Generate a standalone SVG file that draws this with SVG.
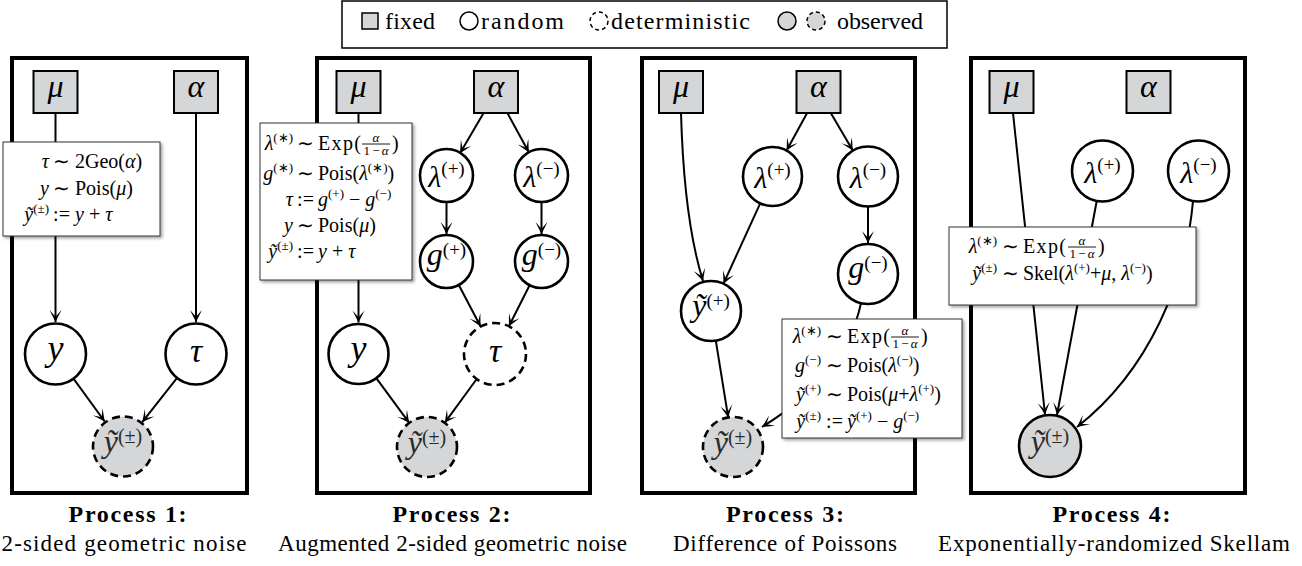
<svg xmlns="http://www.w3.org/2000/svg" width="1302" height="566" viewBox="0 0 1302 566" font-family="Liberation Serif, serif">
<style>
text{font-family:'Liberation Serif',serif;fill:#000}
.m{font-size:20px}
.i{font-style:italic}
.s{font-size:13px}
.fr{font-size:13px}
.e{text-anchor:end}
.c{text-anchor:middle}
.lab{font-style:italic;text-anchor:middle}
.cap{font-size:24px;font-weight:bold;text-anchor:middle}
.sub{font-size:23px;text-anchor:middle}
.lg{font-size:24px}
.node{stroke:#000;stroke-width:2.6;fill:#fff}
.det{stroke-dasharray:8 5}
.obs{fill:#d4d6d7}
.obst{fill:#2a2a2a}
.fix{fill:#d4d6d7;stroke:#000;stroke-width:2}
.frame{fill:none;stroke:#000;stroke-width:4}
.edge{fill:none;stroke:#000;stroke-width:2;marker-end:url(#arr)}
.tb{fill:#fff;stroke:#333;stroke-width:1;filter:url(#sh)}
.bar{stroke:#000;stroke-width:0.9}
</style>
<defs>
<marker id="arr" viewBox="-13 -7 14 14" refX="0" refY="0" markerWidth="14" markerHeight="14" markerUnits="userSpaceOnUse" orient="auto">
<path d="M0,0 L-12,-6 Q-7,-1.5 -5,0 Q-7,1.5 -12,6 Z" fill="#000" stroke="none"/>
</marker>
<filter id="sh" x="-10%" y="-10%" width="130%" height="130%">
<feDropShadow dx="2" dy="2" stdDeviation="1.6" flood-color="#000" flood-opacity="0.35"/>
</filter>
</defs>
<rect width="1302" height="566" fill="#fff"/>

<g id="legend">
<rect x="342" y="1" width="605" height="47" fill="#fff" stroke="#000" stroke-width="1.5"/>
<rect x="362" y="13" width="16" height="16" fill="#d4d6d7" stroke="#000" stroke-width="1.5"/>
<text class="lg" x="385" y="29" textLength="50">fixed</text>
<circle cx="469" cy="21" r="9" fill="#fff" stroke="#000" stroke-width="1.5"/>
<text class="lg" x="481" y="29" textLength="83">random</text>
<circle cx="599" cy="21" r="9" fill="#fff" stroke="#000" stroke-width="1.5" stroke-dasharray="4 3"/>
<text class="lg" x="611" y="29" textLength="139">deterministic</text>
<circle cx="787" cy="21" r="9" fill="#d4d6d7" stroke="#000" stroke-width="1.5"/>
<circle cx="816" cy="21" r="9" fill="#d4d6d7" stroke="#000" stroke-width="1.5" stroke-dasharray="4 3"/>
<text class="lg" x="837" y="29" textLength="86">observed</text>
</g>

<g id="frames">
<rect class="frame" x="12" y="58" width="235" height="435"/>
<rect class="frame" x="317" y="58" width="273" height="435"/>
<rect class="frame" x="642" y="58" width="273" height="435"/>
<rect class="frame" x="971" y="58" width="274" height="435"/>
</g>

<g id="connectors">
<path class="edge" d="M55.5 113 V322"/>
<path class="edge" d="M196 113 V322"/>
<path class="edge" d="M73.5 378.6 L104.7 421.5"/>
<path class="edge" d="M177.1 377.9 L142.2 422.2"/>
<path class="edge" d="M358.5 113 V322.5"/>
<path class="edge" d="M483.6 113 L460 153.2"/>
<path class="edge" d="M507.4 113 L528.8 152.2"/>
<path class="edge" d="M446.5 202 V234"/>
<path class="edge" d="M541.5 202 V234"/>
<path class="edge" d="M458.8 285 L480.6 326.5"/>
<path class="edge" d="M529.6 285.2 L508.9 326.3"/>
<path class="edge" d="M376.3 378.2 L409.2 422.9"/>
<path class="edge" d="M476.7 379 L444.7 422.8"/>
<path class="edge" d="M681 113 Q684 220 703 281"/>
<path class="edge" d="M760.2 203.3 L723.5 283.7"/>
<path class="edge" d="M807.1 113 L786.6 150.6"/>
<path class="edge" d="M830.8 113 L852.8 150.6"/>
<path class="edge" d="M868 206.5 V243"/>
<path class="edge" d="M715.8 340.6 L728.2 417.4"/>
<path class="edge" d="M861 303 Q846 375 762 427"/>
<path class="edge" d="M1013 113 L1045 414.5"/>
<path class="edge" d="M1096.7 201 L1057 415"/>
<path class="edge" d="M1193 201 C1186 280 1150 370 1077 427"/>
</g>

<!-- Panel 1 nodes -->
<g id="p1-mu"><rect class="fix" x="33.5" y="71" width="44" height="42"/><text class="lab" x="55.5" y="97" font-size="32">μ</text></g>
<g id="p1-alpha"><rect class="fix" x="174" y="71" width="44" height="42"/><text class="lab" x="196" y="97" font-size="32">α</text></g>
<g id="p1-y"><circle class="node" cx="55.5" cy="354" r="30.5"/><text class="lab" x="55.5" y="360" font-size="36">y</text></g>
<g id="p1-tau"><circle class="node" cx="196" cy="354" r="30.5"/><text class="lab" x="196" y="362" font-size="34">τ</text></g>
<g id="p1-ytilde"><circle class="node det obs" cx="123" cy="446.5" r="30"/><text class="lab obst" x="123" y="452" font-size="32">ỹ<tspan font-size="20" font-style="normal" dy="-9">(±)</tspan></text></g>

<!-- Panel 2 nodes -->
<g id="p2-mu"><rect class="fix" x="336.5" y="71" width="44" height="42"/><text class="lab" x="358.5" y="97" font-size="32">μ</text></g>
<g id="p2-alpha"><rect class="fix" x="474" y="71" width="44" height="42"/><text class="lab" x="496" y="97" font-size="32">α</text></g>
<g id="p2-lplus"><circle class="node" cx="446.5" cy="175.5" r="26.5"/><text class="lab" x="446.5" y="187" font-size="30">λ<tspan font-size="19" font-style="normal" dy="-12">(+)</tspan></text></g>
<g id="p2-lminus"><circle class="node" cx="541.5" cy="175.5" r="26.5"/><text class="lab" x="541.5" y="187" font-size="30">λ<tspan font-size="19" font-style="normal" dy="-12">(−)</tspan></text></g>
<g id="p2-gplus"><circle class="node" cx="446.5" cy="261.5" r="26.5"/><text class="lab" x="446.5" y="265" font-size="32">g<tspan font-size="19" font-style="normal" dy="-9">(+)</tspan></text></g>
<g id="p2-gminus"><circle class="node" cx="541.5" cy="261.5" r="26.5"/><text class="lab" x="541.5" y="265" font-size="32">g<tspan font-size="19" font-style="normal" dy="-9">(−)</tspan></text></g>
<g id="p2-y"><circle class="node" cx="358.5" cy="354" r="30"/><text class="lab" x="358.5" y="360" font-size="36">y</text></g>
<g id="p2-tau"><circle class="node det" cx="495" cy="354" r="31"/><text class="lab" x="495" y="362" font-size="34">τ</text></g>
<g id="p2-ytilde"><circle class="node det obs" cx="427" cy="447" r="30"/><text class="lab obst" x="427" y="452.5" font-size="32">ỹ<tspan font-size="20" font-style="normal" dy="-9">(±)</tspan></text></g>

<!-- Panel 3 nodes -->
<g id="p3-mu"><rect class="fix" x="659" y="71" width="44" height="42"/><text class="lab" x="681" y="97" font-size="32">μ</text></g>
<g id="p3-alpha"><rect class="fix" x="796.5" y="71" width="44" height="42"/><text class="lab" x="818.5" y="97" font-size="32">α</text></g>
<g id="p3-lplus"><circle class="node" cx="772.5" cy="176.5" r="29.5"/><text class="lab" x="772.5" y="188" font-size="30">λ<tspan font-size="19" font-style="normal" dy="-12">(+)</tspan></text></g>
<g id="p3-lminus"><circle class="node" cx="868" cy="176.5" r="30"/><text class="lab" x="868" y="188" font-size="30">λ<tspan font-size="19" font-style="normal" dy="-12">(−)</tspan></text></g>
<g id="p3-gminus"><circle class="node" cx="868" cy="274" r="30"/><text class="lab" x="868" y="278" font-size="32">g<tspan font-size="19" font-style="normal" dy="-9">(−)</tspan></text></g>
<g id="p3-yplus"><circle class="node" cx="711" cy="311" r="30"/><text class="lab" x="711" y="316" font-size="32">ỹ<tspan font-size="19" font-style="normal" dy="-9">(+)</tspan></text></g>
<g id="p3-ytilde"><circle class="node det obs" cx="733" cy="447" r="30"/><text class="lab obst" x="733" y="452.5" font-size="32">ỹ<tspan font-size="20" font-style="normal" dy="-9">(±)</tspan></text></g>

<!-- Panel 4 nodes -->
<g id="p4-mu"><rect class="fix" x="989.5" y="71" width="44" height="42"/><text class="lab" x="1011.5" y="97" font-size="32">μ</text></g>
<g id="p4-alpha"><rect class="fix" x="1126.5" y="71" width="44" height="42"/><text class="lab" x="1148.5" y="97" font-size="32">α</text></g>
<g id="p4-lplus"><circle class="node" cx="1102.5" cy="171" r="30.5"/><text class="lab" x="1102.5" y="182.5" font-size="30">λ<tspan font-size="19" font-style="normal" dy="-12">(+)</tspan></text></g>
<g id="p4-lminus"><circle class="node" cx="1198.5" cy="171" r="30.5"/><text class="lab" x="1198.5" y="182.5" font-size="30">λ<tspan font-size="19" font-style="normal" dy="-12">(−)</tspan></text></g>
<g id="p4-ytilde"><circle class="node obs" cx="1050" cy="446" r="31"/><text class="lab obst" x="1050" y="451.5" font-size="32">ỹ<tspan font-size="20" font-style="normal" dy="-9">(±)</tspan></text></g>

<!-- Text box 1 -->
<g id="box1">
<rect class="tb" x="3" y="142" width="157" height="94"/>
<text class="m i e" x="49" y="168">τ</text><text class="m c" x="61.5" y="168">∼</text><text class="m" x="75" y="168">2Geo(<tspan class="i">α</tspan>)</text>
<text class="m i e" x="49" y="195">y</text><text class="m c" x="61.5" y="195">∼</text><text class="m" x="75" y="195">Pois(<tspan class="i">μ</tspan>)</text>
<text class="m e" x="49" y="221"><tspan class="i">ỹ</tspan><tspan class="s" dy="-8">(±)</tspan></text><text class="m c" x="61.5" y="221">:=</text><text class="m" x="75" y="221"><tspan class="i">y</tspan> + <tspan class="i">τ</tspan></text>
</g>

<!-- Text box 2 -->
<g id="box2">
<rect class="tb" x="260" y="123" width="152" height="157"/>
<text class="m e" x="293" y="150"><tspan class="i">λ</tspan><tspan class="s" dy="-8">(∗)</tspan></text><text class="m c" x="305.5" y="150">∼</text>
<text class="m" x="318" y="150" textLength="43">Exp(</text>
<text class="fr i c" x="376" y="142">α</text><line class="bar" x1="362" y1="144" x2="390" y2="144"/><text class="fr c" x="376" y="154.5" textLength="25">1−<tspan class="i">α</tspan></text>
<text class="m" x="392" y="150">)</text>
<text class="m e" x="293" y="180"><tspan class="i">g</tspan><tspan class="s" dy="-8">(∗)</tspan></text><text class="m c" x="305.5" y="180">∼</text><text class="m" x="318" y="180">Pois(<tspan class="i">λ</tspan><tspan class="s" dy="-8">(∗)</tspan><tspan dy="8">)</tspan></text>
<text class="m i e" x="293" y="206">τ</text><text class="m c" x="305.5" y="206">:=</text><text class="m" x="318" y="206"><tspan class="i">g</tspan><tspan class="s" dy="-8">(+)</tspan><tspan dy="8"> − </tspan><tspan class="i">g</tspan><tspan class="s" dy="-8">(−)</tspan></text>
<text class="m i e" x="293" y="232">y</text><text class="m c" x="305.5" y="232">∼</text><text class="m" x="318" y="232">Pois(<tspan class="i">μ</tspan>)</text>
<text class="m e" x="293" y="258"><tspan class="i">ỹ</tspan><tspan class="s" dy="-8">(±)</tspan></text><text class="m c" x="305.5" y="258">:=</text><text class="m" x="318" y="258"><tspan class="i">y</tspan> + <tspan class="i">τ</tspan></text>
</g>

<!-- Text box 3 -->
<g id="box3">
<rect class="tb" x="782" y="319" width="180" height="119"/>
<text class="m e" x="821" y="343"><tspan class="i">λ</tspan><tspan class="s" dy="-8">(∗)</tspan></text><text class="m c" x="834.5" y="343">∼</text>
<text class="m" x="847" y="343" textLength="43">Exp(</text>
<text class="fr i c" x="905" y="335">α</text><line class="bar" x1="891" y1="337" x2="919" y2="337"/><text class="fr c" x="905" y="347.5" textLength="25">1−<tspan class="i">α</tspan></text>
<text class="m" x="921" y="343">)</text>
<text class="m e" x="821" y="372"><tspan class="i">g</tspan><tspan class="s" dy="-8">(−)</tspan></text><text class="m c" x="834.5" y="372">∼</text><text class="m" x="847" y="372">Pois(<tspan class="i">λ</tspan><tspan class="s" dy="-8">(−)</tspan><tspan dy="8">)</tspan></text>
<text class="m e" x="821" y="401"><tspan class="i">ỹ</tspan><tspan class="s" dy="-8">(+)</tspan></text><text class="m c" x="834.5" y="401">∼</text><text class="m" x="847" y="401">Pois(<tspan class="i">μ</tspan>+<tspan class="i">λ</tspan><tspan class="s" dy="-8">(+)</tspan><tspan dy="8">)</tspan></text>
<text class="m e" x="821" y="428"><tspan class="i">ỹ</tspan><tspan class="s" dy="-8">(±)</tspan></text><text class="m c" x="834.5" y="428">:=</text><text class="m" x="847" y="428"><tspan class="i">ỹ</tspan><tspan class="s" dy="-8">(+)</tspan><tspan dy="8"> − </tspan><tspan class="i">g</tspan><tspan class="s" dy="-8">(−)</tspan></text>
</g>

<!-- Text box 4 -->
<g id="box4">
<rect class="tb" x="949" y="227" width="247" height="78"/>
<text class="m e" x="997" y="253"><tspan class="i">λ</tspan><tspan class="s" dy="-8">(∗)</tspan></text><text class="m c" x="1010.5" y="253">∼</text>
<text class="m" x="1023" y="253" textLength="43">Exp(</text>
<text class="fr i c" x="1082" y="245">α</text><line class="bar" x1="1068" y1="247" x2="1096" y2="247"/><text class="fr c" x="1082" y="257.5" textLength="25">1−<tspan class="i">α</tspan></text>
<text class="m" x="1098" y="253">)</text>
<text class="m e" x="997" y="280"><tspan class="i">ỹ</tspan><tspan class="s" dy="-8">(±)</tspan></text><text class="m c" x="1010.5" y="280">∼</text><text class="m" x="1023" y="280">Skel(<tspan class="i">λ</tspan><tspan class="s" dy="-8">(+)</tspan><tspan dy="8">+</tspan><tspan class="i">μ</tspan>, <tspan class="i">λ</tspan><tspan class="s" dy="-8">(−)</tspan><tspan dy="8">)</tspan></text>
</g>

<g id="captions">
<text class="cap" x="127.6" y="522" textLength="118">Process 1:</text>
<text class="sub" x="124" y="551" textLength="245">2-sided geometric noise</text>
<text class="cap" x="451.5" y="522" textLength="118">Process 2:</text>
<text class="sub" x="452.5" y="551" textLength="349">Augmented 2-sided geometric noise</text>
<text class="cap" x="785" y="522" textLength="118">Process 3:</text>
<text class="sub" x="785" y="551" textLength="224">Difference of Poissons</text>
<text class="cap" x="1111.5" y="522" textLength="118">Process 4:</text>
<text class="sub" x="1114" y="551" textLength="352">Exponentially-randomized Skellam</text>
</g>
</svg>
